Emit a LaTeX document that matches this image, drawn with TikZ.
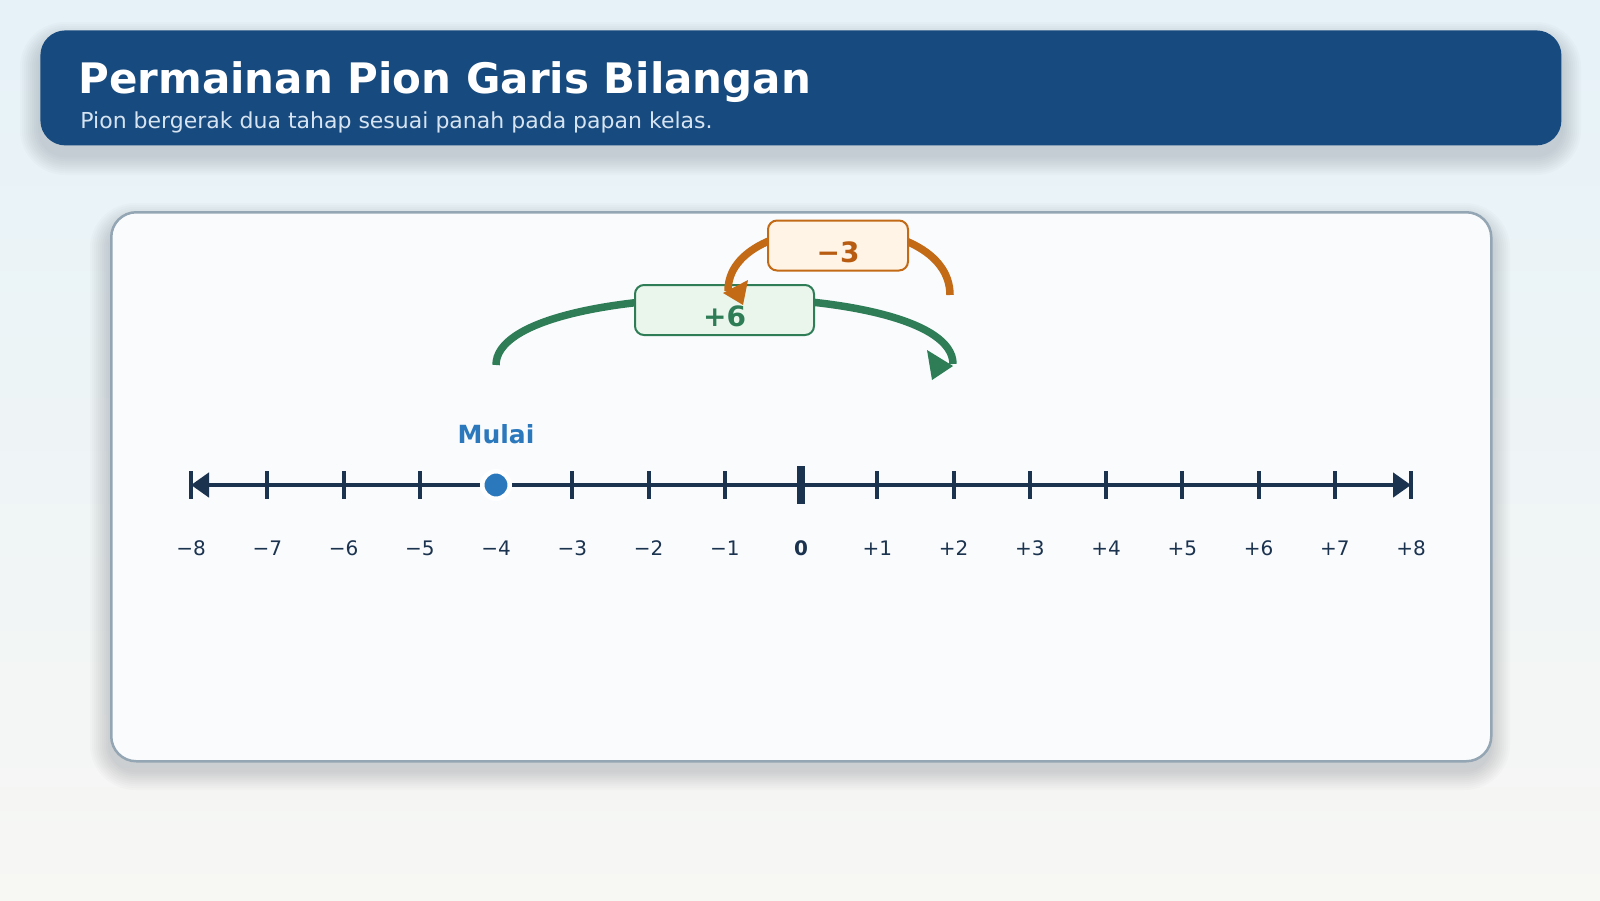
\documentclass[tikz,border=0pt]{standalone}
\usepackage{xcolor}
\usepackage{fontspec}
\setmainfont{DejaVu Sans}
\usepackage{tikz}
\definecolor{bgTop}{HTML}{E6F2F8}
\definecolor{bgBottom}{HTML}{F7F7F4}
\definecolor{headerBlue}{HTML}{174A7E}
\definecolor{subText}{HTML}{D6E4F2}
\definecolor{panelFill}{HTML}{F9FBFD}
\definecolor{panelLine}{HTML}{94A6B4}
\definecolor{lineNavy}{HTML}{1B334F}
\definecolor{pionBlue}{HTML}{2B78BC}
\definecolor{moveGreen}{HTML}{2E7D57}
\definecolor{greenFill}{HTML}{EAF6EC}
\definecolor{moveOrange}{HTML}{C26A16}
\definecolor{orangeFill}{HTML}{FFF4E6}
\definecolor{orangeText}{HTML}{B85C12}
\usetikzlibrary{arrows.meta, positioning}

\begin{document}
\begin{tikzpicture}[
    x=0.5pt, y=-0.5pt,
    shadowlayer/.style={fill=black!60!lineNavy, opacity=0.016},
    numtick/.style={draw=lineNavy, line width=2pt},
    numlabel/.style={text=lineNavy, font=\fontsize{10}{12}\selectfont, inner sep=0pt},
    movebox/.style={rectangle, rounded corners=4.5pt, line width=1pt, text height=18pt, text depth=1.5pt, inner xsep=0pt, inner ysep=2.75pt, font=\fontsize{14}{16}\selectfont\bfseries},
    movearc/.style={line width=3.75pt}
]
    \shade[top color=bgTop, bottom color=bgBottom] (0,0) rectangle (1600,900);
    \useasboundingbox (0,0) rectangle (1600,900);

    \foreach \k in {1,...,10} {
        \fill[shadowlayer, rounded corners={(12.5+\k)*1pt}] ({40-2*\k}, {42-2*\k}) rectangle ({1561+2*\k}, {155+2*\k});
        \fill[shadowlayer, rounded corners={(12.5+\k)*1pt}] ({110-2*\k}, {223-2*\k}) rectangle ({1490+2*\k}, {770+2*\k});
    }

    \node[
        rectangle,
        rounded corners=12.5pt,
        fill=headerBlue,
        minimum width=760.5pt,
        minimum height=57.5pt,
        inner sep=0pt,
        anchor=north west
    ] (header) at (40,30) {};
    \node[anchor=base west, inner sep=0pt, text=white, font=\fontsize{21}{25}\selectfont\bfseries] (title) at (78,93) {Permainan Pion Garis Bilangan};
    \node[anchor=base west, inner sep=0pt, text=subText, font=\fontsize{11}{13}\selectfont] (subtitle) at (80,128) {Pion bergerak dua tahap sesuai panah pada papan kelas.};

    \node[
        rectangle,
        rounded corners=12.5pt,
        draw=panelLine,
        line width=1.25pt,
        fill=panelFill,
        minimum width=690pt,
        minimum height=274.5pt,
        inner sep=0pt,
        anchor=north west
    ] (panel) at (110,211) {};

    \foreach \i in {0,...,16}
        \coordinate (t\i) at ({191+76.25*\i}, 485);
    \draw[line width=2.25pt, lineNavy, {Triangle[length=9pt,width=12pt]}-{Triangle[length=9pt,width=12pt]}] (t0) -- (t16);
    \foreach \i in {0,...,7,9,10,...,16}
        \draw[numtick] (t\i) ++(0,-14) -- ++(0,28);
    \draw[numtick, line width=4pt] (t8) ++(0,-19) -- ++(0,38);
    \foreach \i/\lab in {0/−8, 1/−7, 2/−6, 3/−5, 4/−4, 5/−3, 6/−2, 7/−1, 8/{\textbf{0}}, 9/+1, 10/+2, 11/+3, 12/+4, 13/+5, 14/+6, 15/+7, 16/+8}
        \node[numlabel] (lab\i) at ({191+76.25*\i}, 548) {\lab};

    \node[circle, fill=pionBlue, draw=white, line width=2.25pt, minimum size=13.75pt, inner sep=0pt] (pion) at (t4) {};
    \node[above=12.5pt of pion, inner sep=0pt, text=pionBlue, font=\fontsize{12.5}{15}\selectfont\bfseries] (mulai) {Mulai};

    \coordinate (gstart) at (496,365);
    \coordinate (gend) at (953,364);
    \draw[movearc, moveGreen] (gstart) .. controls +(0,-89) and +(0,-89) .. (gend);
    \fill[moveGreen] (gend) ++(0,2) -- ++(-26,-16) -- ++(5,30) -- cycle;
    \node[movebox, draw=moveGreen, fill=greenFill, text=moveGreen, minimum width=89.5pt] (plusbox) at (724.5,310) {+6};

    \coordinate (ostart) at (950,295);
    \coordinate (oend) at (728,291);
    \draw[movearc, moveOrange] (ostart) .. controls +(0,-88) and +(0,-84) .. (oend);
    \fill[moveOrange] (oend) ++(-5,2) -- ++(25,-13) -- ++(-5,25) -- cycle;
    \node[movebox, draw=moveOrange, fill=orangeFill, text=orangeText, minimum width=70pt] (minusbox) at (838,245.5) {−3};
\end{tikzpicture}
\end{document}
